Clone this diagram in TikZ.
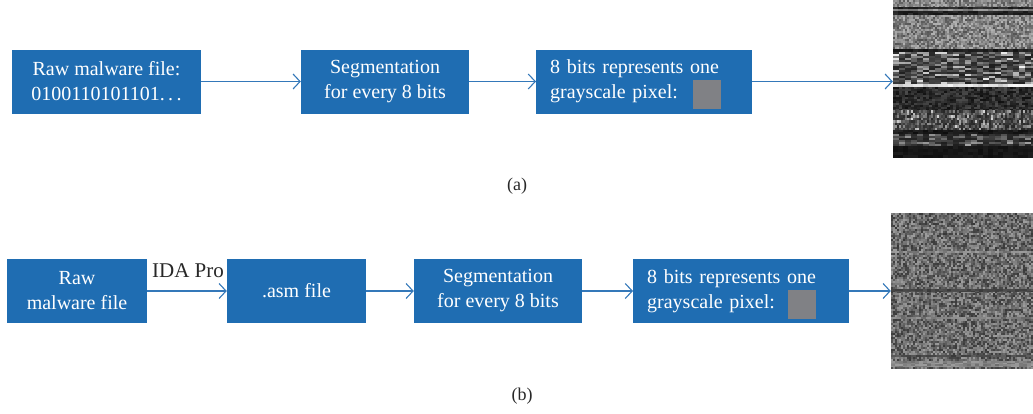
\documentclass[tikz,border=0pt]{standalone}
\usepackage{fontspec}
\setmainfont{Liberation Serif}
\usetikzlibrary{arrows.meta}
\definecolor{boxblue}{RGB}{31,109,178}
\definecolor{arrblue}{RGB}{52,120,185}
\definecolor{pixgray}{RGB}{128,129,133}
\definecolor{labelgray}{RGB}{40,40,40}
% noise band: x0,x1,y0,y1,cellw,cellh,mean,amp  (uniform noise)
\newcommand{\noiseband}[8]{%
  \pgfmathtruncatemacro{\nbnx}{ceil((#2-#1)/#5)-1}%
  \pgfmathtruncatemacro{\nbny}{ceil((#4-#3)/#6)-1}%
  \foreach \j in {0,...,\nbny}{%
    \foreach \i in {0,...,\nbnx}{%
      \pgfmathsetmacro{\nbv}{max(0,min(100,#7+#8*(2*rnd-1)))}%
      \fill[white!\nbv!black] ({#1+\i*#5},{#3+\j*#6}) rectangle ++(#5,#6);
    }}}
% streak band: base + amp*rnd^2 (mostly dark, some bright)
\newcommand{\streakband}[8]{%
  \pgfmathtruncatemacro{\nbnx}{ceil((#2-#1)/#5)-1}%
  \pgfmathtruncatemacro{\nbny}{ceil((#4-#3)/#6)-1}%
  \foreach \j in {0,...,\nbny}{%
    \foreach \i in {0,...,\nbnx}{%
      \pgfmathsetmacro{\nbv}{max(0,min(100,#7+#8*rnd*rnd))}%
      \fill[white!\nbv!black] ({#1+\i*#5},{#3+\j*#6}) rectangle ++(#5,#6);
    }}}
\begin{document}
\begin{tikzpicture}[x=1pt,y=-1pt,
  box/.style={fill=boxblue,draw=none,text=white,inner sep=0pt,
    font=\fontsize{20}{25}\selectfont,minimum height=64pt},
  cbox/.style={box,align=center},
  lbox/.style={box,align=left,inner xsep=14pt,anchor=west},
  arr/.style={draw=arrblue,line width=1.1pt,-{Straight Barb[length=7pt,width=15pt,line width=1.1pt]}},
  pix/.style={fill=pixgray,draw=none,minimum width=28pt,minimum height=29pt,inner sep=0pt},
  img/.style={draw=none,inner sep=0pt},
  captxt/.style={text=labelgray,font=\fontsize{18}{22}\selectfont}]
\useasboundingbox (0,0) rectangle (1033,413);
\pgfmathsetseed{12345}

% ---------- row (a) ----------
\node[cbox,minimum width=189pt] (a1) at (106.5,81.5) {Raw malware file:\\0100110101101.\,.\,.};
\node[cbox,minimum width=168pt] (a2) at (385,81.5) {Segmentation\\for every 8 bits};
\node[lbox,minimum width=216pt,text width=188pt] (a3) at (536,81.5) {8 bits represents one\\grayscale pixel:};
\node[pix] (pa) at (707,94.5) {};
\node[img,minimum width=140pt,minimum height=157pt] (imgA) at (963,78.5) {};

\begin{scope}
\clip (893,0) rectangle (1033,157);
\noiseband{893}{1033}{0}{7}{2}{2}{52}{18}
\noiseband{893}{1033}{7}{9}{5}{2}{15}{6}
\noiseband{893}{1033}{9}{11}{5}{2}{55}{12}
\noiseband{893}{1033}{11}{15}{5}{2}{14}{6}
\noiseband{893}{1033}{15}{49}{2}{2}{52}{20}
\noiseband{893}{1033}{49}{52}{5}{3}{12}{5}
\streakband{893}{1033}{52}{84}{6}{2}{12}{90}
\noiseband{893}{1033}{84}{87}{5}{3}{88}{10}
\noiseband{893}{1033}{87}{110}{3}{2}{18}{12}
\streakband{893}{1033}{110}{130}{2}{2.5}{15}{75}
\noiseband{893}{1033}{130}{134}{5}{2}{10}{5}
\streakband{893}{1033}{134}{146}{6}{2}{12}{70}
\noiseband{893}{1033}{146}{157}{5}{3}{9}{3}
\end{scope}

\draw[arr] (a1.east) -- (a2.west);
\draw[arr] (a2.east) -- (a3.west);
\draw[arr] (a3.east) -- (a3.east -| imgA.west);

\node[captxt] (la) at (517,186) {(a)};

% ---------- row (b) ----------
\node[cbox,minimum width=140pt] (b1) at (77,291) {Raw\\malware file};
\node[cbox,minimum width=139pt] (b2) at (296.5,291) {.asm file};
\node[cbox,minimum width=168pt] (b3) at (498,291) {Segmentation\\for every 8 bits};
\node[lbox,minimum width=216pt,text width=188pt] (b4) at (633,291) {8 bits represents one\\grayscale pixel:};
\node[pix] (pb) at (802,304.5) {};
\node[img,minimum width=142pt,minimum height=155pt] (imgB) at (962,290.5) {};

\begin{scope}
\clip (891,213) rectangle (1033,368);
\noiseband{891}{1033}{213}{368}{2}{2}{42}{20}
\noiseband{891}{1033}{251}{252.5}{4}{1.5}{52}{10}
\noiseband{891}{1033}{289}{291.5}{4}{1.5}{28}{6}
\noiseband{891}{1033}{317}{318.5}{5}{1.5}{50}{10}
\noiseband{891}{1033}{355}{357}{5}{2}{30}{8}
\noiseband{891}{1033}{361}{366}{4}{1.5}{52}{10}
\end{scope}

\node[text=labelgray,font=\fontsize{21}{25}\selectfont,anchor=base] (ida) at (188,277) {IDA Pro};
\draw[arr] (b1.east) -- (b2.west);
\draw[arr] (b2.east) -- (b3.west);
\draw[arr] (b3.east) -- (b4.west);
\draw[arr] (b4.east) -- (b4.east -| imgB.west);

\node[captxt] (lb) at (522,396) {(b)};
\end{tikzpicture}
\end{document}
